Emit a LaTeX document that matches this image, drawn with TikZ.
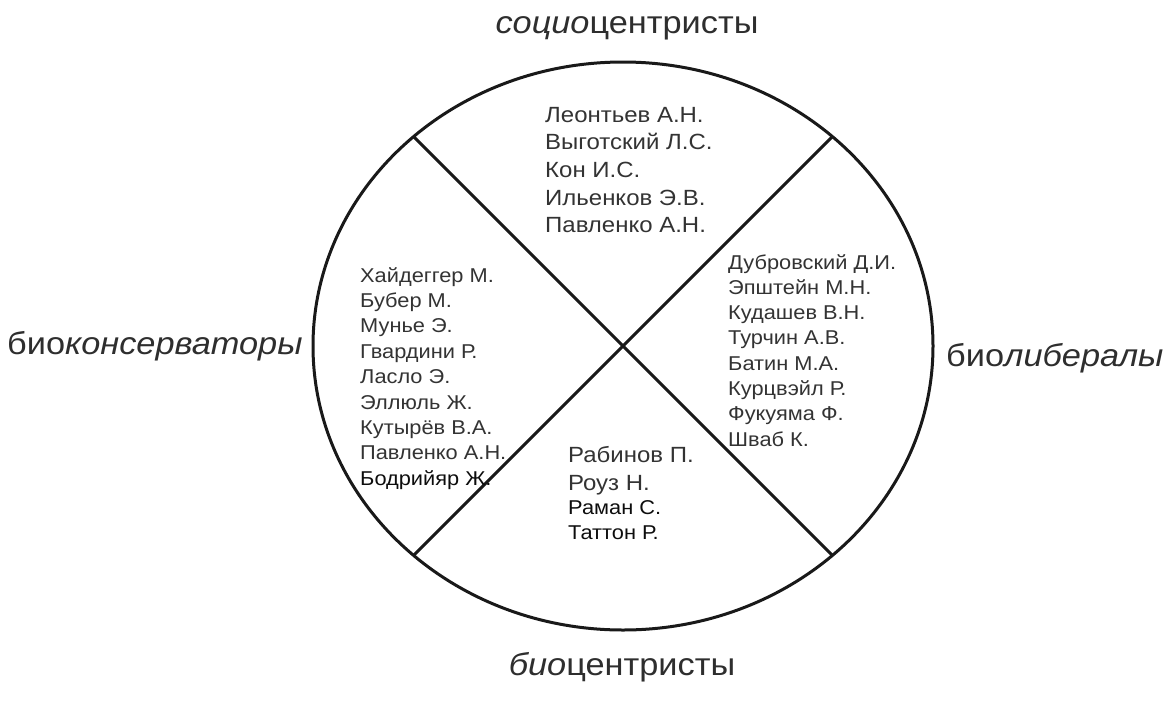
\documentclass[tikz,border=0pt]{standalone}
\usepackage{fontspec}
\setmainfont{Liberation Sans}[FakeStretch=1.09]
\begin{document}
\begin{tikzpicture}[x=1pt,y=-1pt,
  divider/.style={line width=3pt, black!90},
  bigname/.style={anchor=base west, inner sep=0pt, text=black!80, font=\fontsize{22}{26}\selectfont},
  smallname/.style={anchor=base west, inner sep=0pt, text=black!80, font=\fontsize{20}{24}\selectfont},
  darkname/.style={anchor=base west, inner sep=0pt, text=black!95, font=\fontsize{20}{24}\selectfont},
  lab/.style={inner sep=0pt, text=black!82, font=\fontsize{31.5}{36}\selectfont}]
\useasboundingbox (0,0) rectangle (1173,702);
% circle (stretched) and the two dividing lines
\draw[divider] (623,346) ellipse [x radius=310, y radius=284];
\coordinate (tl) at (414,137);
\coordinate (tr) at (832,137);
\coordinate (bl) at (414,555);
\coordinate (br) at (832,555);
\draw[divider] (tl) -- (br);
\draw[divider] (tr) -- (bl);
% top sector
\foreach \t [count=\i from 0] in {Леонтьев А.Н., Выготский Л.С., Кон И.С., Ильенков Э.В., Павленко А.Н.}
  \node[bigname] (s\i) at (545,{122+27.7*\i}) {\t};
% left sector
\foreach \t [count=\i from 0] in {Хайдеггер М., Бубер М., Мунье Э., Гвардини Р., Ласло Э., Эллюль Ж., Кутырёв В.А., Павленко А.Н.}
  \node[smallname] (k\i) at (360,{282+25.4*\i}) {\t};
\node[darkname] (k8) at (360,{282+25.4*8}) {Бодрийяр Ж.};
% right sector
\foreach \t [count=\i from 0] in {Дубровский Д.И., Эпштейн М.Н., Кудашев В.Н., Турчин А.В., Батин М.А., Курцвэйл Р., Фукуяма Ф., Шваб К.}
  \node[smallname] (r\i) at (728,{269+25.3*\i}) {\t};
% bottom sector
\node[bigname] (b0) at (568,462) {Рабинов П.};
\node[bigname] (b1) at (568,490) {Роуз Н.};
\node[darkname] (b2) at (568,514) {Раман С.};
\node[darkname] (b3) at (568,539) {Таттон Р.};
% outer labels
\node[lab, anchor=base] (ltop) at (627,33) {\textit{социо}центристы};
\node[lab, anchor=base] (lbot) at (622,675) {\textit{био}центристы};
\node[lab, anchor=base west] (lleft) at (7,354) {био\textit{консерваторы}};
\node[lab, anchor=base west] (lright) at (946,366) {био\textit{либералы}};
\end{tikzpicture}
\end{document}
